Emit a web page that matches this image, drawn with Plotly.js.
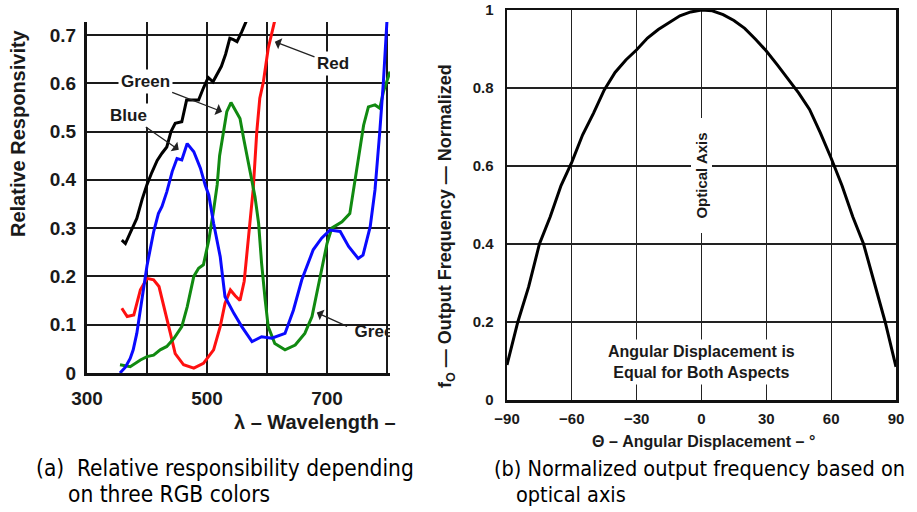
<!DOCTYPE html>
<html>
<head>
<meta charset="utf-8">
<script src="https://cdn.plot.ly/plotly-3.0.1.min.js"></script>
<style>html,body{margin:0;padding:0;background:#fff;}#chart{width:917px;height:512px;}</style>
</head>
<body>
<div id="chart"></div>
<script>
// ---------- Chart (a): relative responsivity ----------
const blackWl = [358, 364, 372, 383, 392, 400, 408, 417, 425, 433, 440, 447, 458, 466, 476, 486, 494, 502, 510, 517, 524, 531, 538, 544, 550, 558, 566];
const blackR  = [0.275, 0.268, 0.29, 0.32, 0.36, 0.39, 0.415, 0.44, 0.455, 0.468, 0.50, 0.517, 0.52, 0.565, 0.565, 0.565, 0.59, 0.612, 0.603, 0.62, 0.635, 0.66, 0.693, 0.69, 0.686, 0.707, 0.73];

const blueWl = [355, 364, 372, 377, 383, 391, 400, 411, 419, 425, 433, 442, 450, 458, 467, 478, 489, 497, 503, 511, 522, 530, 545, 558, 575, 591, 608, 630, 644, 658, 677, 691, 705, 722, 736, 752, 760, 772, 780, 788, 794, 800];
const blueR  = [0.0, 0.012, 0.03, 0.048, 0.082, 0.151, 0.222, 0.292, 0.33, 0.345, 0.375, 0.417, 0.444, 0.441, 0.475, 0.458, 0.424, 0.389, 0.368, 0.31, 0.241, 0.158, 0.123, 0.096, 0.065, 0.075, 0.072, 0.082, 0.13, 0.193, 0.255, 0.279, 0.296, 0.293, 0.262, 0.237, 0.244, 0.303, 0.379, 0.50, 0.603, 0.73];

const redWl = [358, 367, 378, 389, 400, 411, 420, 430, 439, 447, 461, 478, 494, 511, 522, 530, 539, 547, 555, 562, 568, 573, 577, 583, 588, 594, 602, 613];
const redR  = [0.134, 0.117, 0.12, 0.172, 0.196, 0.193, 0.179, 0.13, 0.082, 0.04, 0.017, 0.01, 0.02, 0.048, 0.096, 0.144, 0.172, 0.16, 0.15, 0.19, 0.26, 0.33, 0.38, 0.50, 0.569, 0.603, 0.672, 0.73];

const greenWl = [355, 372, 389, 400, 411, 422, 433, 445, 458, 467, 478, 486, 494, 503, 511, 517, 521, 528, 533, 540, 547, 555, 561, 569, 575, 580, 586, 591, 597, 602, 613, 630, 647, 663, 675, 683, 691, 700, 708, 725, 738, 744, 752, 761, 769, 780, 788, 794, 805];
const greenR  = [0.017, 0.013, 0.027, 0.034, 0.037, 0.048, 0.055, 0.072, 0.096, 0.137, 0.2, 0.217, 0.224, 0.275, 0.337, 0.39, 0.45, 0.506, 0.541, 0.56, 0.545, 0.527, 0.486, 0.437, 0.396, 0.365, 0.31, 0.227, 0.151, 0.096, 0.061, 0.048, 0.058, 0.082, 0.117, 0.165, 0.22, 0.268, 0.3, 0.313, 0.33, 0.379, 0.444, 0.513, 0.551, 0.555, 0.548, 0.582, 0.624];

const wlTickVals = [300, 400, 500, 600, 700, 800];
const wlTickText = ['300', '', '500', '', '700', ''];
const respTickVals = [0, 0.1, 0.2, 0.3, 0.4, 0.5, 0.6, 0.7];
const respTickText = ['0', '0.1', '0.2', '0.3', '0.4', '0.5', '0.6', '0.7'];

// ---------- Chart (b): normalized output frequency ----------
const angle = [-90, -85, -80, -75, -70, -65, -60, -55, -50, -45, -40, -35, -30, -25, -20, -15, -10, -5, 0, 5, 10, 15, 20, 25, 30, 35, 40, 45, 50, 55, 60, 65, 70, 75, 80, 85, 90];
const freq  = [0.09, 0.2, 0.29, 0.40, 0.47, 0.55, 0.61, 0.68, 0.735, 0.795, 0.84, 0.872, 0.898, 0.928, 0.95, 0.968, 0.985, 0.995, 1.0, 0.998, 0.988, 0.973, 0.953, 0.925, 0.895, 0.86, 0.825, 0.787, 0.745, 0.685, 0.62, 0.55, 0.47, 0.40, 0.30, 0.20, 0.085];
const angTickVals = [-90, -60, -30, 0, 30, 60, 90];
const freqTickVals = [0, 0.2, 0.4, 0.6, 0.8, 1];
const freqTickText = ['0', '0.2', '0.4', '0.6', '0.8', '1'];

const FONT = 'Liberation Sans, Arial, Helvetica, sans-serif';
const CAP = 'DejaVu Sans Condensed, DejaVu Sans, sans-serif';
const TXT = '#1a1a1a';
const W = 917, H = 512;
const px = v => v / W;
const py = v => 1 - v / H;

const traces = [
  {x: blackWl, y: blackR, xaxis: 'x', yaxis: 'y', mode: 'lines', line: {color: '#000', width: 3}, hoverinfo: 'skip'},
  {x: redWl, y: redR, xaxis: 'x', yaxis: 'y', mode: 'lines', line: {color: '#ff1010', width: 3}, hoverinfo: 'skip'},
  {x: greenWl, y: greenR, xaxis: 'x', yaxis: 'y', mode: 'lines', line: {color: '#118a11', width: 3}, hoverinfo: 'skip'},
  {x: blueWl, y: blueR, xaxis: 'x', yaxis: 'y', mode: 'lines', line: {color: '#0a0aff', width: 3}, hoverinfo: 'skip'},
  {x: [746], y: [0.083], xaxis: 'x', yaxis: 'y', mode: 'text', text: ['Green'], textposition: 'middle right',
   textfont: {family: FONT, size: 17, color: TXT, weight: 'bold'}, cliponaxis: true, hoverinfo: 'skip'},
  {x: angle, y: freq, xaxis: 'x2', yaxis: 'y2', mode: 'lines', line: {color: '#000', width: 3}, hoverinfo: 'skip'}
];

const lblFont = {family: FONT, size: 17, color: TXT, weight: 'bold'};
const arrowCommon = {showarrow: true, arrowhead: 1, arrowsize: 1.5, arrowwidth: 1.3, arrowcolor: '#222', axref: 'x', ayref: 'y', xref: 'x', yref: 'y', standoff: 0};
const paperText = (text, x, y, font, extra) => Object.assign({text: text, xref: 'paper', yref: 'paper', x: px(x), y: py(y),
  xanchor: 'center', yanchor: 'middle', showarrow: false, font: font}, extra || {});

const annotations = [
  Object.assign({text: 'Green', x: 525, y: 0.541, ax: 397, ay: 0.603, font: lblFont, bgcolor: '#fff', borderpad: 2}, arrowCommon),
  Object.assign({text: 'Blue', x: 453, y: 0.462, ax: 369, ay: 0.534, font: lblFont, bgcolor: '#fff', borderpad: 2}, arrowCommon),
  Object.assign({text: 'Red', x: 613, y: 0.686, ax: 710, ay: 0.64, font: lblFont, bgcolor: '#fff', borderpad: 2}, arrowCommon),
  Object.assign({text: '', x: 683, y: 0.125, ax: 736, ay: 0.095, font: lblFont}, arrowCommon),
  paperText('Relative Responsivity', 18, 133, {family: FONT, size: 20, color: TXT, weight: 'bold'}, {textangle: -90}),
  paperText('λ – Wavelength –', 232, 422, {family: FONT, size: 20, color: TXT, weight: 'bold'}, {xanchor: 'left'}),
  {text: 'Optical Axis', xref: 'x2', yref: 'paper', x: 0, y: py(176), xanchor: 'center', yanchor: 'middle', textangle: -90, showarrow: false,
   width: 112, height: 18, bgcolor: '#fff', borderpad: 1,
   font: {family: FONT, size: 15, color: TXT, weight: 'bold'}},
  {text: 'Angular Displacement is<br>Equal for Both Aspects', xref: 'x2', yref: 'paper', x: 0, y: py(362), xanchor: 'center', yanchor: 'middle', showarrow: false,
   bgcolor: '#fff', borderpad: 3,
   font: {family: FONT, size: 16, color: TXT, weight: 'bold'}},
  paperText('f<sub>O</sub> — Output Frequency — Normalized', 446, 226, {family: FONT, size: 18, color: TXT, weight: 'bold'}, {textangle: -90}),
  paperText('Θ – Angular Displacement – °', 703, 441, {family: FONT, size: 16, color: TXT, weight: 'bold'}),
  paperText('(a)  Relative responsibility depending', 34, 468, {family: CAP, size: 22.5, color: '#000'}, {xanchor: 'left'}),
  paperText('on three RGB colors', 66, 494, {family: CAP, size: 22.5, color: '#000'}, {xanchor: 'left'}),
  paperText('(b) Normalized output frequency based on', 492, 468, {family: CAP, size: 21.5, color: '#000'}, {xanchor: 'left'}),
  paperText('optical axis', 514, 494, {family: CAP, size: 21.5, color: '#000'}, {xanchor: 'left'})
];

const layout = {
  width: W, height: H,
  margin: {l: 0, r: 0, t: 0, b: 0},
  paper_bgcolor: '#fff', plot_bgcolor: '#fff',
  showlegend: false,
  xaxis: {
    domain: [px(87), px(390)], range: [300, 805], tickvals: wlTickVals, ticktext: wlTickText,
    showgrid: true, gridcolor: '#1a1a1a', gridwidth: 2, zeroline: false,
    showline: true, linecolor: '#111', linewidth: 3, ticks: '', ticklabelstandoff: 6,
    tickfont: {family: FONT, size: 19, color: TXT, weight: 'bold'}, fixedrange: true
  },
  yaxis: {
    domain: [py(373), py(22)], range: [0, 0.7267], tickvals: respTickVals, ticktext: respTickText,
    showgrid: true, gridcolor: '#1a1a1a', gridwidth: 2, zeroline: false,
    showline: true, linecolor: '#111', linewidth: 3, ticks: '', ticklabelstandoff: 4,
    tickfont: {family: FONT, size: 19, color: TXT, weight: 'bold'}, fixedrange: true
  },
  xaxis2: {
    domain: [px(507), px(896)], range: [-90, 90], tickvals: angTickVals, anchor: 'y2',
    showgrid: true, gridcolor: '#222', gridwidth: 1.2, zeroline: false,
    showline: true, mirror: true, linecolor: '#111', linewidth: 2.5, ticks: '', ticklabelstandoff: 3,
    tickfont: {family: FONT, size: 15, color: TXT, weight: 'bold'}, fixedrange: true
  },
  yaxis2: {
    domain: [py(400), py(10)], range: [0, 1], tickvals: freqTickVals, ticktext: freqTickText, anchor: 'x2',
    showgrid: true, gridcolor: '#222', gridwidth: 1.2, zeroline: false,
    showline: true, mirror: true, linecolor: '#111', linewidth: 2.5, ticks: '', ticklabelstandoff: 8,
    tickfont: {family: FONT, size: 15, color: TXT, weight: 'bold'}, fixedrange: true
  },
  annotations: annotations
};

Plotly.newPlot('chart', traces, layout, {staticPlot: true, displayModeBar: false});
</script>
</body>
</html>
